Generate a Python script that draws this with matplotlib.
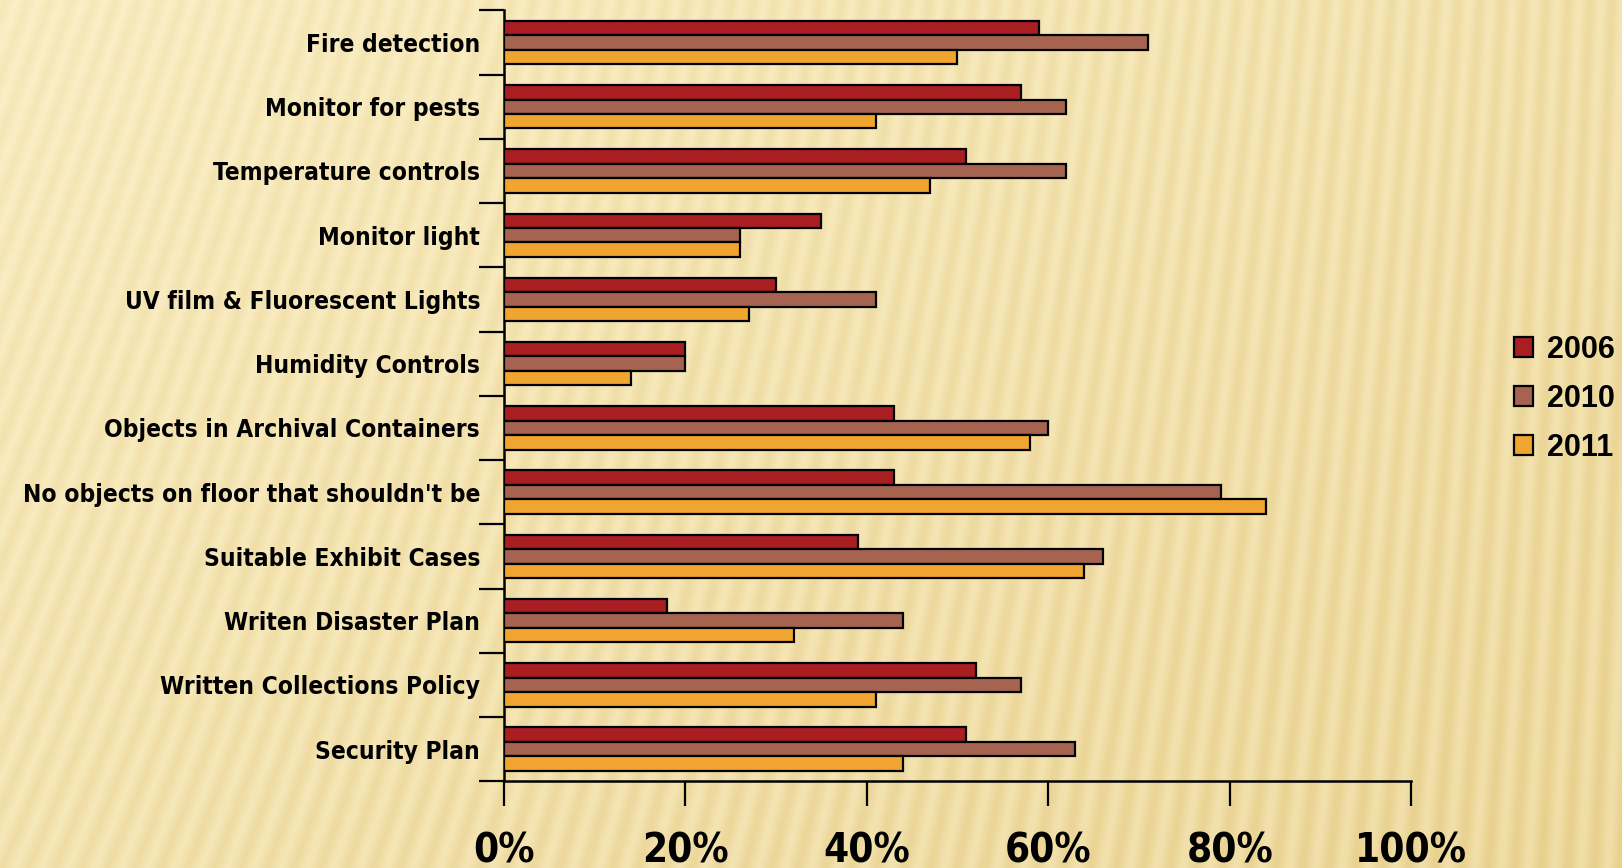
import numpy as np
import matplotlib
matplotlib.use("Agg")
import matplotlib.pyplot as plt
from matplotlib.transforms import ScaledTranslation

categories = ["Fire detection", "Monitor for pests", "Temperature controls", "Monitor light",
              "UV film & Fluorescent Lights", "Humidity Controls", "Objects in Archival Containers",
              "No objects on floor that shouldn't be", "Suitable Exhibit Cases",
              "Writen Disaster Plan", "Written Collections Policy", "Security Plan"]
v2006 = [59, 57, 51, 35, 30, 20, 43, 43, 39, 18, 52, 51]
v2010 = [71, 62, 62, 26, 41, 20, 60, 79, 66, 44, 57, 63]
v2011 = [50, 41, 47, 26, 27, 14, 58, 84, 64, 32, 41, 44]
series_names = ["2006", "2010", "2011"]
colors = ["#A81E21", "#A66450", "#F0A530"]
xticks = [0, 20, 40, 60, 80, 100]
xtick_labels = ["0%", "20%", "40%", "60%", "80%", "100%"]

W, H = 1622, 868
fig = plt.figure(figsize=(W / 100, H / 100), dpi=100)

# decorative background
bg = fig.add_axes([0, 0, 1, 1], zorder=-10)
yy, xx = np.mgrid[0:H, 0:W].astype(float)
base = np.clip(0.55 * (xx / W) + 0.45 * (yy / H), 0, 1)
k = 0.32 * (1 - xx / W) + 0.04
stripe = 0.5 + 0.5 * np.sin(2 * np.pi * (xx + k * yy) / 22.0)
light = np.array([253, 243, 206]) / 255.0
dark = np.array([230, 205, 135]) / 255.0
t = np.clip(0.10 + 0.45 * base + 0.36 * stripe * (0.5 + 0.5 * base), 0, 1)
img = light[None, None, :] * (1 - t[..., None]) + dark[None, None, :] * t[..., None]
bg.imshow(img, aspect="auto", extent=[0, 1, 0, 1], origin="upper")
bg.axis("off")

ax = fig.add_axes([0.3105, 0.100, 0.5595, 0.888])
ax.set_facecolor((1, 1, 1, 0))
n = len(categories)
y = np.arange(n)[::-1].astype(float)
h = 0.225
for i, (vals, c, nm) in enumerate(zip([v2006, v2010, v2011], colors, series_names)):
    ax.barh(y + h * (1 - i), vals, height=h, color=c, edgecolor="black", linewidth=1.6, label=nm, zorder=3)

font_c = dict(family="DejaVu Sans", stretch="condensed", weight="bold")
ax.set_xlim(0, 100)
ax.set_ylim(-0.5, n - 0.5)
ax.set_xticks(xticks)
ax.set_xticklabels(xtick_labels, fontsize=29, **font_c)
ax.set_yticks(list(np.arange(n + 1) - 0.5))
ax.set_yticklabels([])
ax.set_yticks(y, minor=True)
labels = ax.set_yticklabels(categories, minor=True, fontsize=17.6, va="center_baseline", **font_c)
shift = ScaledTranslation(0, 3 / 100, fig.dpi_scale_trans)
for lab in labels:
    lab.set_transform(lab.get_transform() + shift)
ax.tick_params(axis="y", which="minor", length=0, pad=17)
ax.tick_params(axis="y", which="major", length=18, width=1.6, direction="out")
ax.tick_params(axis="x", length=18, width=1.6, direction="out", pad=18)
for s in ["top", "right"]:
    ax.spines[s].set_visible(False)
for s in ["left", "bottom"]:
    ax.spines[s].set_linewidth(1.8)

leg = fig.legend(loc="upper left", bbox_to_anchor=(0.9165, 0.646), frameon=False,
                 prop={"family": "Liberation Sans", "size": 22, "weight": "bold"},
                 handlelength=0.62, handleheight=0.62, handletextpad=0.45, labelspacing=0.62)
for p in leg.get_patches():
    p.set_linewidth(1.6)

fig.savefig("out.png", dpi=100)
